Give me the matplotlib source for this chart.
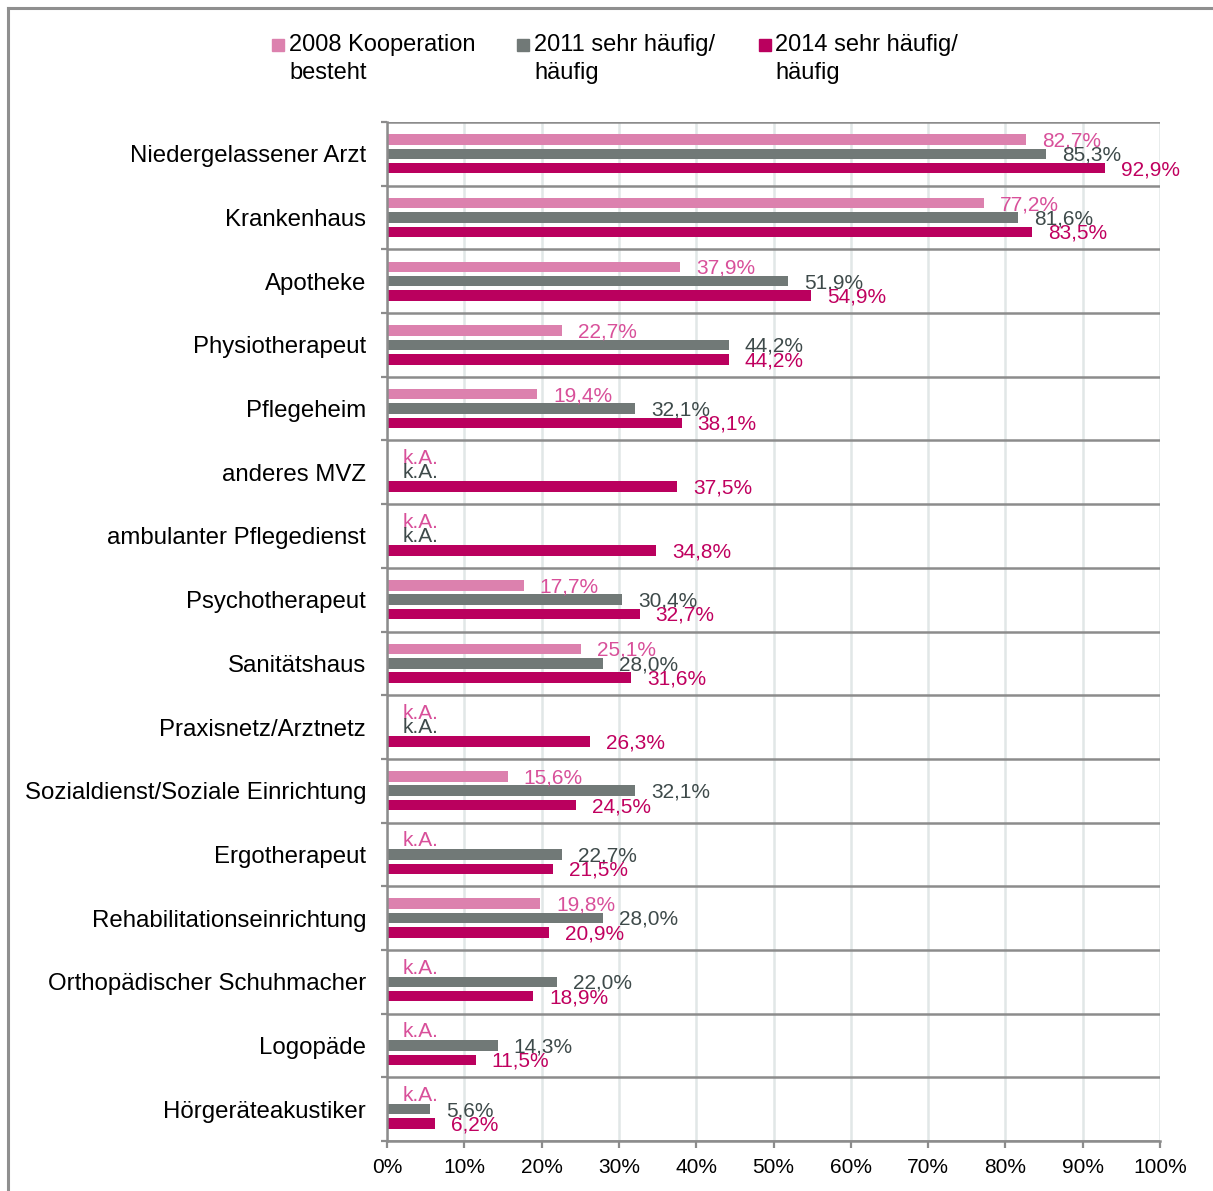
import matplotlib
matplotlib.use("Agg")
import matplotlib.pyplot as plt
from matplotlib.lines import Line2D
from matplotlib.patches import Rectangle
import numpy as np

plt.rcParams['font.family'] = ['Liberation Sans', 'DejaVu Sans']

categories = [
    "Niedergelassener Arzt", "Krankenhaus", "Apotheke", "Physiotherapeut",
    "Pflegeheim", "anderes MVZ", "ambulanter Pflegedienst", "Psychotherapeut",
    "Sanitätshaus", "Praxisnetz/Arztnetz", "Sozialdienst/Soziale Einrichtung",
    "Ergotherapeut", "Rehabilitationseinrichtung", "Orthopädischer Schuhmacher",
    "Logopäde", "Hörgeräteakustiker",
]
# None = keine Angabe (k.A.)
v2008 = [82.7, 77.2, 37.9, 22.7, 19.4, None, None, 17.7, 25.1, None, 15.6,
         None, 19.8, None, None, None]
v2011 = [85.3, 81.6, 51.9, 44.2, 32.1, None, None, 30.4, 28.0, None, 32.1,
         22.7, 28.0, 22.0, 14.3, 5.6]
v2014 = [92.9, 83.5, 54.9, 44.2, 38.1, 37.5, 34.8, 32.7, 31.6, 26.3, 24.5,
         21.5, 20.9, 18.9, 11.5, 6.2]
series_labels = [("2008 Kooperation", "besteht"),
                 ("2011 sehr häufig/", "häufig"),
                 ("2014 sehr häufig/", "häufig")]
xticks = [0, 10, 20, 30, 40, 50, 60, 70, 80, 90, 100]

bar_colors = ["#DC81AE", "#717977", "#BA005E"]
text_colors = ["#D8509A", "#3E4A4A", "#C0005F"]

W, H = 1213, 1191
fig = plt.figure(figsize=(W / 100, H / 100), dpi=100)
ax = fig.add_axes([387 / W, 1 - 1141 / H, (1160 - 387) / W, (1141 - 122) / H])

n = len(categories)
y = np.arange(n)
offsets = [-0.226, 0.0, 0.226]
bh = 0.165

for vals, off, bc, tc in zip([v2008, v2011, v2014], offsets, bar_colors, text_colors):
    for yi, v in zip(y, vals):
        if v is None:
            ax.annotate("k.A.", xy=(0, yi + off), xytext=(11.5, -0.5),
                        textcoords="offset points", va="center", ha="left",
                        fontsize=15, color=tc, zorder=5)
            continue
        ax.barh(yi + off, v, height=bh, color=bc, zorder=3)
        ax.annotate(f"{v:.1f}".replace(".", ",") + "%", xy=(v, yi + off),
                    xytext=(11.5, -1), textcoords="offset points",
                    va="center", ha="left", fontsize=15, color=tc, zorder=5,
                    annotation_clip=False)

ax.set_xlim(0, 100)
ax.set_ylim(n - 0.5, -0.5)
ax.set_xticks(xticks)
ax.set_xticklabels([f"{t}%" for t in xticks], fontsize=15)
ax.set_yticks(y)
ax.set_yticklabels(categories, fontsize=17.3)
ax.set_yticks(np.arange(-0.5, n, 1.0), minor=True)

ax.tick_params(axis="y", which="major", length=0, pad=15)
ax.tick_params(axis="y", which="minor", length=4, width=1.6, color="#8C8C8C")
ax.tick_params(axis="x", which="major", length=5, width=1.6, color="#8C8C8C", pad=7)

ax.grid(axis="x", color="#E1E7E7", linewidth=1.8, zorder=0)
ax.grid(axis="y", which="minor", color="#8C8C8C", linewidth=1.8, zorder=1)
ax.grid(axis="y", which="major", visible=False)

for side in ["right", "top"]:
    ax.spines[side].set_visible(False)
for side in ["left", "bottom"]:
    ax.spines[side].set_color("#8C8C8C")
    ax.spines[side].set_linewidth(1.8)
    ax.spines[side].set_zorder(4)

# Legend: square marker on the first line, two-line text
legend_x = [(272, 289), (517, 534), (759, 775)]
for (sq_x, tx_x), (l1, l2), c in zip(legend_x, series_labels, bar_colors):
    fig.add_artist(Rectangle((sq_x / W, 1 - 51 / H), 12 / W, 12 / H,
                             transform=fig.transFigure, color=c))
    fig.text(tx_x / W, 1 - 45 / H, l1, fontsize=17, va="center", ha="left")
    fig.text(tx_x / W, 1 - 73 / H, l2, fontsize=17, va="center", ha="left")

# Outer frame (left and top edges)
frame = "#8F8F8F"
fig.add_artist(Line2D([8 / W, 8 / W], [0, 1 - 8 / H], transform=fig.transFigure,
                      color=frame, linewidth=2.2))
fig.add_artist(Line2D([8 / W, 1], [1 - 8 / H, 1 - 8 / H], transform=fig.transFigure,
                      color=frame, linewidth=2.2))

fig.savefig("out.png", dpi=100, facecolor="white")
